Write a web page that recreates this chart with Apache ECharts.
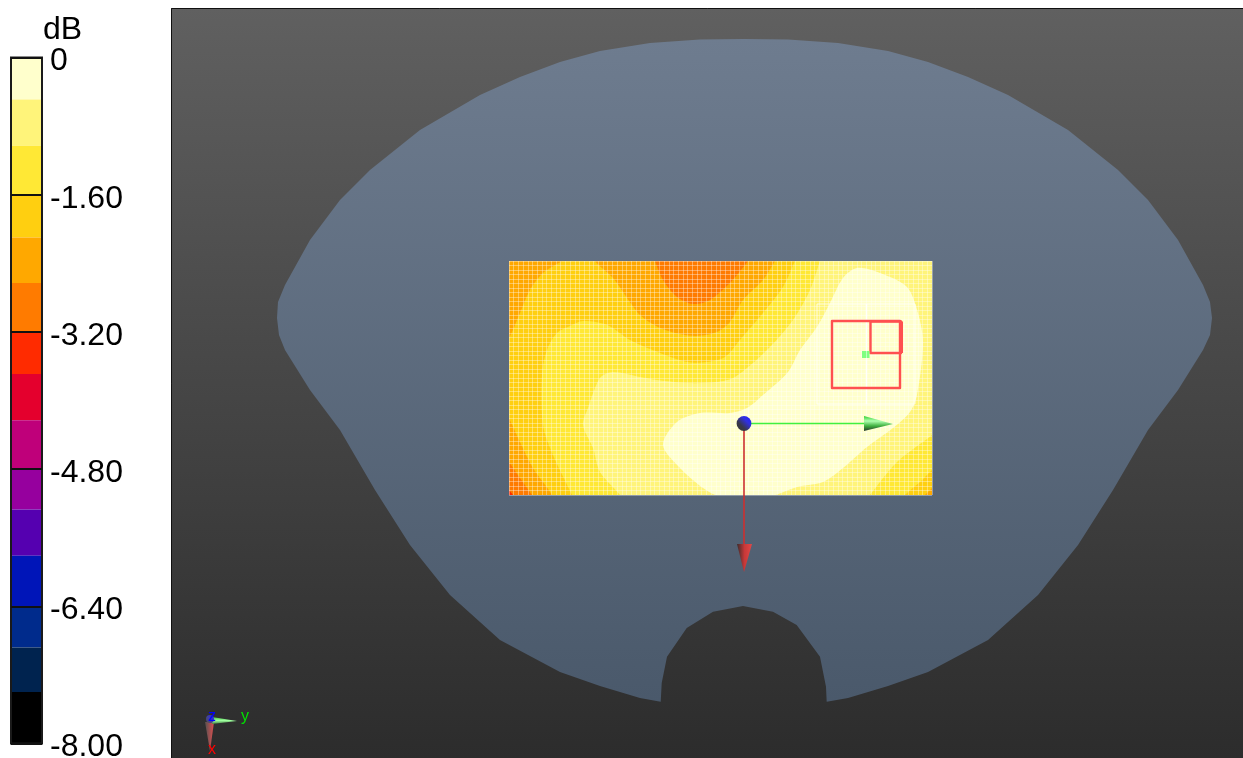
<!DOCTYPE html>
<html>
<head>
<meta charset="utf-8">
<style>html,body{margin:0;padding:0;background:#fff}#c{width:1243px;height:758px}</style>
<script src="https://cdn.jsdelivr.net/npm/echarts@6/dist/echarts.min.js"></script>
</head>
<body>
<div id="c"></div>
<script>
// ---- colour scale (dB) ----
const scaleTicks = [0, -1.6, -3.2, -4.8, -6.4, -8];
const bandEdges = [0, -0.49, -1.03, -1.6, -2.10, -2.63, -3.2, -3.69, -4.23, -4.8, -5.27, -5.81, -6.4, -6.88, -7.40, -8];
const bandColors = ['#FFFFCC','#FFF47A','#FFE835','#FFCF10','#FFA800','#FF7B00','#FF2B00','#E4002D','#BF007A','#96009E','#5500B0','#0015B8','#002B8C','#00234F','#000000'];

// ---- scene outlines, in image units ----
const backdrop = [[171,8],[1243,8],[1243,758],[171,758]];
const phantom = [[744,39],[700,39.5],[650,43],[600,51],[560,62],[520,77],[480,95],[420,130],[370,170],[340,200],[310,240],[285,285],[278,302],[277,318],[279,335],[285,350],[310,390],[340,430],[375,490],[410,545],[450,595],[500,640],[560,672],[600,686],[640,698],[660.7,701.7],[661.7,683],[667,656.7],[686.7,628],[713,611.7],[743,606],[773,611.7],[796.7,625],[820,656.7],[826,686.7],[826.7,701.7],[848,698],[888,686],[928,672],[988,640],[1038,595],[1078,545],[1113,490],[1148,430],[1178,390],[1203,350],[1210,335],[1212,318],[1210,302],[1203,285],[1178,240],[1148,200],[1118,170],[1068,130],[1008,95],[968,77],[928,62],[888,51],[838,43],[788,39.5]];

// ---- scan plane: contour regions (outlines run past the plane and are cut at its edge) ----
const scanRect = [[509,261],[932,261],[932,495],[509,495]];
const contourGold = [[562,261],[580,248],[590,248],[595,261],[613,278],[625,295],[640,315],[660,328],[680,334],[697,336],[717,332],[730,322],[743,300],[763,280],[775,261],[783,248],[950,240],[955,515],[560,515],[552,495],[533,468],[520,442],[509,418],[498,396],[497,355],[509,338],[520,313],[530,290],[543,273]];
const contourYellow = [[795,261],[802,245],[955,240],[955,450],[932,470],[920,482],[905,495],[893,512],[581,515],[572,495],[553,455],[543,425],[542,375],[547,350],[557,333],[570,326],[583,321],[607,325],[630,340],[660,353],[687,362],[707,362],[725,357],[740,340],[763,313],[783,287]];
const contourPale = [[820,261],[826,245],[955,240],[955,415],[932,435],[897,462],[870,495],[855,515],[632,515],[620,495],[600,472],[593,448],[583,425],[588,408],[600,378],[613,372],[640,377],[657,380],[687,383],[717,382],[735,377],[767,350],[793,320],[810,290]];
const contourLightest = [[880,273],[907,287],[918,313],[923,343],[917,395],[910,412],[893,428],[867,447],[843,468],[823,482],[797,487],[770,497],[745,503],[720,497],[703,488],[680,468],[663,445],[677,422],[700,413],[730,413],[747,408],[763,395],[788,372],[800,350],[817,327],[830,303],[843,278],[857,268]];
const contourDeepTop = [[655,261],[663,280],[677,297],[693,304],[710,300],[730,283],[737,275],[748,261],[757,248],[650,245]];
const contourDeepCorner = [[509,462],[520,478],[532,495],[545,515],[490,515],[490,435]];
const contourRedCorner = [[509,490],[513,495],[520,505],[500,505],[500,482]];
const contourOrangeCorner = [[925,495],[932,488],[942,478],[945,505],[918,505]];
const scanColumns = 90;
const scanRows = 52;

// ---- overlays ----
const outerSquare = [[832,321],[900,321],[900,388],[832,388]];
const innerSquare = [[870.5,321.5],[901,321.5],[901,353],[870.5,353]];
const whiteFrame = [[817,304],[915,304],[915,404],[817,404]];
const whiteCross = [[866.5,304],[866.5,404]];
const markerLeft = [[862,351],[866,351],[866,358],[862,358]];
const markerRight = [[866.5,351],[869.5,351],[869.5,358],[866.5,358]];
const axisYShaft = [[744,423.5],[866,423.5]];
const axisYCone = [[864,416],[893,424],[864,431]];
const axisXShaft = [[744,428],[744,546]];
const axisXCone = [[737,544],[752,544],[744,572]];
const origin = [[744,423.5]];
const triadYCone = [[212,717],[237,721],[212,724]];
const triadXCone = [[205,722],[214,722],[210,751]];
const triadHub = [[210,719]];
const triadLabels = [['x',212,750,'#FF0000'],['y',245,717,'#00E000'],['z',212,717,'#0000FF']];

function grad(x, y, x2, y2, stops) {
  return {type:'linear', x:x, y:y, x2:x2, y2:y2, colorStops:stops.map((c,i)=>({offset:stops.length>1?i/(stops.length-1):0, color:c}))};
}
function poly(name, pts, fill, z) {
  return {type:'custom', name:name, xAxisIndex:0, yAxisIndex:0, coordinateSystem:'cartesian2d', z:z, silent:true,
    data:pts, clip:false, encode:{x:0,y:1},
    renderItem:(p,api)=> p.dataIndex!==0 ? null : ({type:'polygon', shape:{points:pts.map(q=>api.coord(q))}, style:{fill:fill}})};
}
function contour(name, pts, fill, z) {
  return {type:'custom', name:name, xAxisIndex:0, yAxisIndex:0, coordinateSystem:'cartesian2d', z:z, silent:true,
    data:pts, clip:false, encode:{x:0,y:1},
    renderItem:(p,api)=>{
      if (p.dataIndex!==0) return null;
      const a=api.coord(scanRect[0]), b=api.coord(scanRect[2]);
      return {type:'polygon', shape:{points:pts.map(q=>api.coord(q)), smooth:0.3}, style:{fill:fill},
        clipPath:{type:'rect', shape:{x:a[0],y:a[1],width:b[0]-a[0],height:b[1]-a[1]}}};
    }};
}
function outline(name, pts, color, width, closed, z) {
  return {type:'custom', name:name, xAxisIndex:0, yAxisIndex:0, coordinateSystem:'cartesian2d', z:z, silent:true,
    data:pts, clip:false, encode:{x:0,y:1},
    renderItem:(p,api)=> p.dataIndex!==0 ? null : ({type:closed?'polygon':'polyline', shape:{points:pts.map(q=>api.coord(q))}, style:{fill:'none', stroke:color, lineWidth:width, lineJoin:'round'}})};
}
function ball(name, pts, r, fill, z) {
  return {type:'custom', name:name, xAxisIndex:0, yAxisIndex:0, coordinateSystem:'cartesian2d', z:z, silent:true,
    data:pts, clip:false, encode:{x:0,y:1},
    renderItem:(p,api)=>{const c=api.coord(pts[p.dataIndex]); return {type:'circle', shape:{cx:c[0],cy:c[1],r:r}, style:{fill:fill}};}};
}

const series = [
  poly('backdrop', backdrop, grad(0,0,0,1,['#606060','#2C2C2C']), 1),
  outline('backdrop edge', [[171.5,758],[171.5,8.5],[1243,8.5]], '#111111', 1, false, 1.5),
  poly('phantom', phantom, grad(0,0,0,1,['#6E7C8F','#4A596B']), 2),
  poly('band orange base', scanRect, '#FFA800', 3),
  contour('band gold', contourGold, '#FFCF10', 3.1),
  contour('band yellow', contourYellow, '#FFE835', 3.2),
  contour('band pale', contourPale, '#FFF47A', 3.3),
  contour('band lightest', contourLightest, '#FFFFCC', 3.4),
  contour('band deep top', contourDeepTop, '#FF7B00', 3.5),
  contour('band deep corner', contourDeepCorner, '#FF7B00', 3.5),
  contour('band red corner', contourRedCorner, '#FF2B00', 3.6),
  contour('band orange corner', contourOrangeCorner, '#FFA800', 3.6),
  outline('white frame', whiteFrame, 'rgba(255,255,255,0.75)', 1, true, 6),
  outline('white cross', whiteCross, 'rgba(255,255,255,0.9)', 1.5, false, 6),
  outline('outer square', outerSquare, '#FF5050', 2.4, true, 7),
  outline('inner square', innerSquare, '#FF5050', 2.4, true, 7),
  outline('inner square edge', [innerSquare[1], innerSquare[2]], '#FF5050', 4, false, 7),
  poly('marker l', markerLeft, '#80FF80', 7),
  poly('marker r', markerRight, '#80FF80', 7),
  outline('y shaft', axisYShaft, '#40F040', 1.6, false, 8),
  poly('y cone', axisYCone, grad(0,0,0,1,['#30D030','#B0FFB0','#40B040','#2A3A2A']), 8),
  outline('x shaft', axisXShaft, '#CC3030', 1.6, false, 8),
  poly('x cone', axisXCone, grad(0,0,1,0,['#3A2C2C','#C83838','#E04848']), 8),
  ball('origin', origin, 7.4, grad(1,0,0,1,['#2020FF','#3030E0','#383848','#383838']), 9),
  poly('triad x', triadXCone, grad(0,0,1,0,['#555050','#E05050']), 8),
  poly('triad y', triadYCone, grad(0,0,0,1,['#40C040','#A0FFA0','#408040']), 8),
  ball('triad hub', triadHub, 4, grad(1,0,0,1,['#2020FF','#4040A0','#505050']), 9),
  {type:'custom', name:'triad labels', xAxisIndex:0, yAxisIndex:0, coordinateSystem:'cartesian2d', z:10, silent:true,
    data:triadLabels.map(t=>[t[1],t[2]]), clip:false, encode:{x:0,y:1},
    renderItem:(p,api)=>{const t=triadLabels[p.dataIndex]; const c=api.coord([t[1],t[2]]);
      return {type:'text', style:{x:c[0], y:c[1], text:t[0], fill:t[3], font:'16px "Liberation Sans"', align:'center', verticalAlign:'middle'}};}},
  // colour bar
  {type:'custom', name:'scale', xAxisIndex:1, yAxisIndex:1, coordinateSystem:'cartesian2d', z:2, silent:true,
    data:bandColors.map((c,i)=>[0.5, bandEdges[i], bandEdges[i+1]]), encode:{x:0,y:[1,2]}, clip:false,
    renderItem:(p,api)=>{const a=api.coord([0,api.value(1)]), b=api.coord([1,api.value(2)]);
      return {type:'rect', shape:{x:a[0],y:a[1],width:b[0]-a[0],height:b[1]-a[1]}, style:{fill:bandColors[p.dataIndex]}};}},
  {type:'custom', name:'scale frame', xAxisIndex:1, yAxisIndex:1, coordinateSystem:'cartesian2d', z:3, silent:true,
    data:[[0,0],[1,-8]], encode:{x:0,y:1}, clip:false,
    renderItem:(p,api)=>{ if(p.dataIndex!==0) return null; const a=api.coord([0,0]), b=api.coord([1,-8]);
      return {type:'rect', shape:{x:a[0],y:a[1],width:b[0]-a[0],height:b[1]-a[1]}, style:{fill:'none',stroke:'#1A1A1A',lineWidth:2}};}},
  // carries the scan-plane mesh axes
  {type:'custom', name:'mesh', xAxisIndex:2, yAxisIndex:2, coordinateSystem:'cartesian2d', z:1, silent:true,
    data:[[0,0]], encode:{x:0,y:1}, renderItem:()=>null}
];

const chart = echarts.init(document.getElementById('c'), null, {renderer:'canvas'});
chart.setOption({
  animation:false,
  backgroundColor:'#FFFFFF',
  title:{text:'dB', left:38, top:9, textStyle:{fontFamily:'Liberation Sans', fontSize:32, fontWeight:'normal', color:'#000'}},
  grid:[
    {left:0, top:0, width:1243, height:758, outerBoundsMode:'none'},
    {left:11, top:57.5, width:31, height:686, outerBoundsMode:'none'},
    {left:509, top:261, width:423, height:234, outerBoundsMode:'none'}
  ],
  xAxis:[
    {gridIndex:0, type:'value', min:0, max:1243, show:false},
    {gridIndex:1, type:'value', min:0, max:1, show:false},
    {gridIndex:2, type:'value', min:0, max:scanColumns, interval:1, z:5,
     axisLine:{show:false}, axisTick:{show:false}, axisLabel:{show:false},
     splitLine:{show:true, lineStyle:{color:'rgba(255,255,255,0.36)', width:1}}}
  ],
  yAxis:[
    {gridIndex:0, type:'value', min:0, max:758, inverse:true, show:false},
    {gridIndex:1, type:'value', min:-8, max:0, interval:1.6, position:'right', z:6,
     axisLine:{show:false}, axisTick:{show:false},
     splitLine:{show:true, lineStyle:{color:'#111', width:2}},
     axisLabel:{margin:8, fontFamily:'Liberation Sans', fontSize:32, color:'#000', verticalAlign:'top', lineHeight:8,
       showMinLabel:true, showMaxLabel:true, hideOverlap:false,
       formatter:v=>Math.abs(v)<1e-6?'0':v.toFixed(2)}},
    {gridIndex:2, type:'value', min:0, max:scanRows, interval:1, z:5,
     axisLine:{show:false}, axisTick:{show:false}, axisLabel:{show:false},
     splitLine:{show:true, lineStyle:{color:'rgba(255,255,255,0.36)', width:1}}}
  ],
  series:series
});
</script>
</body>
</html>
